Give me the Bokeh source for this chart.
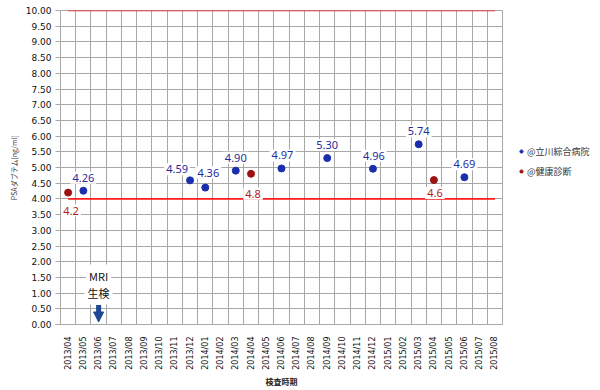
from bokeh.plotting import figure
from bokeh.models import (ColumnDataSource, FixedTicker, Range1d, Legend, LegendItem,
                          Arrow, NormalHead)
from bokeh.core.properties import value
from bokeh.embed import file_html
from bokeh.resources import INLINE
from math import pi

# ---------------- data ----------------
months = ["2013/04", "2013/05", "2013/06", "2013/07", "2013/08", "2013/09", "2013/10",
          "2013/11", "2013/12", "2014/01", "2014/02", "2014/03", "2014/04", "2014/05",
          "2014/06", "2014/07", "2014/08", "2014/09", "2014/10", "2014/11", "2014/12",
          "2015/01", "2015/02", "2015/03", "2015/04", "2015/05", "2015/06", "2015/07",
          "2015/08"]

hospital_name = "@立川綜合病院"
hospital_months = ["2013/05", "2013/12", "2014/01", "2014/03", "2014/06",
                   "2014/09", "2014/12", "2015/03", "2015/06"]
hospital_psa = [4.26, 4.59, 4.36, 4.90, 4.97, 5.30, 4.96, 5.74, 4.69]

checkup_name = "@健康診断"
checkup_months = ["2013/04", "2014/04", "2015/04"]
checkup_psa = [4.2, 4.8, 4.6]

limit_months = ["2013/04", "2015/08"]
lower_limit = [4.0, 4.0]
upper_limit = [10.0, 10.0]

y_ticks = [0.0, 0.5, 1.0, 1.5, 2.0, 2.5, 3.0, 3.5, 4.0, 4.5, 5.0, 5.5, 6.0, 6.5,
           7.0, 7.5, 8.0, 8.5, 9.0, 9.5, 10.0]

event_month = "2013/06"
event_texts = ["MRI", "生検"]
event_levels = [1.56, 0.99]
arrow_top, arrow_tip = 0.62, 0.08

# label nudges (styling, screen px)
hosp_dx = [0, -13, 3, 0, 1, 0, 1, 0, 0]
hosp_dy = [-13, -11, -15, -13, -13, -13, -13, -13, -13]
chk_dx = [3, 2, 1]
chk_dy = [18, 20, 13]

idx = {m: i for i, m in enumerate(months)}

BLUE = "#1b2fae"
BLUE_TXT = "#1f2c9c"
RED = "#9c1212"
RED_TXT = "#b21b1b"
GRID = "#a8a8a8"

p = figure(frame_width=442, frame_height=314, x_range=Range1d(-0.5, len(months) - 0.5),
           y_range=Range1d(0, 10), output_backend="svg", toolbar_location=None,
           min_border_left=60, min_border_top=10, min_border_bottom=66,
           min_border_right=98)
p.background_fill_color = "white"
p.border_fill_color = "white"
p.outline_line_color = GRID

# grids
p.xgrid.ticker = FixedTicker(ticks=[i - 0.5 for i in range(len(months) + 1)])
p.ygrid.ticker = FixedTicker(ticks=y_ticks)
p.xgrid.grid_line_color = GRID
p.ygrid.grid_line_color = GRID

# axes
p.yaxis.ticker = FixedTicker(ticks=y_ticks)
p.yaxis.major_label_overrides = {t: f"{t:.2f}" for t in y_ticks}
p.yaxis.major_label_text_font = "DejaVu Sans"
p.yaxis.major_label_text_font_size = "9px"
p.yaxis.major_label_text_color = "#111"
p.yaxis.major_tick_out = 5
p.yaxis.major_tick_in = 0
p.yaxis.minor_tick_line_color = None
p.yaxis.major_tick_line_color = GRID
p.yaxis.axis_line_color = GRID
p.yaxis.major_label_standoff = 4
p.yaxis.axis_label = "PSAダブテム[ng/ml]"
p.yaxis.axis_label_text_font = "Noto Sans CJK JP"
p.yaxis.axis_label_text_font_size = "7px"
p.yaxis.axis_label_text_font_style = "normal"
p.yaxis.axis_label_text_color = "#333"
p.yaxis.axis_label_standoff = 4

p.xaxis.ticker = FixedTicker(ticks=list(range(len(months))))
p.xaxis.major_label_overrides = {i: m for i, m in enumerate(months)}
p.xaxis.major_label_orientation = pi / 2
p.xaxis.major_label_text_font = "DejaVu Sans"
p.xaxis.major_label_text_font_size = "8px"
p.xaxis.major_label_text_color = "#111"
p.xaxis.major_tick_line_color = None
p.xaxis.minor_tick_line_color = None
p.xaxis.axis_line_color = GRID
p.xaxis.major_label_standoff = 6
p.xaxis.axis_label = "検査時期"
p.xaxis.axis_label_text_font = "Noto Sans CJK JP"
p.xaxis.axis_label_text_font_size = "8px"
p.xaxis.axis_label_text_font_style = "bold"
p.xaxis.axis_label_text_color = "#222"
p.xaxis.axis_label_standoff = 3

# limit lines
lx = [idx[m] for m in limit_months]
p.line(lx, upper_limit, line_color="#ff1a1a", line_width=1.6)
p.line(lx, lower_limit, line_color="#ff1a1a", line_width=1.6)

# points
hs = ColumnDataSource(dict(x=[idx[m] for m in hospital_months], y=hospital_psa,
                           label=[f"{v:.2f}" for v in hospital_psa], dx=hosp_dx, dy=hosp_dy))
cs = ColumnDataSource(dict(x=[idx[m] for m in checkup_months], y=checkup_psa,
                           label=[f"{v:.1f}" for v in checkup_psa], dx=chk_dx, dy=chk_dy))

r_h = p.scatter("x", "y", source=hs, size=7, fill_color=BLUE, line_color=BLUE)
r_c = p.scatter("x", "y", source=cs, size=7, fill_color=RED, line_color=RED)

p.text("x", "y", text="label", source=hs, text_font=value("Noto Sans"),
       text_font_size="11px", text_color=BLUE_TXT, text_align="center",
       text_baseline="middle", x_offset="dx", y_offset="dy",
       background_fill_color="white", padding=2)
p.text("x", "y", text="label", source=cs, text_font=value("Noto Sans"),
       text_font_size="11px", text_color=RED_TXT, text_align="center",
       text_baseline="middle", x_offset="dx", y_offset="dy",
       background_fill_color="white", padding=2)

# event annotation
es = ColumnDataSource(dict(x=[idx[event_month]] * len(event_texts), y=event_levels,
                           t=event_texts))
p.text("x", "y", text="t", source=es, text_font=value("Noto Sans CJK JP"),
       text_font_size="11px", text_color="#111", text_align="center",
       text_baseline="middle", background_fill_color="white", padding=3)
p.add_layout(Arrow(end=NormalHead(size=10, fill_color="#1f4690", line_color="#1f4690"),
                   x_start=idx[event_month], y_start=arrow_top,
                   x_end=idx[event_month], y_end=arrow_tip,
                   line_color="#1f4690", line_width=5))

legend = Legend(items=[LegendItem(label=hospital_name, renderers=[r_h]),
                       LegendItem(label=checkup_name, renderers=[r_c])],
                location=(15, 143), margin=0, padding=0, spacing=0,
                glyph_width=8, glyph_height=8, label_standoff=2, label_height=20,
                label_text_font="Noto Sans CJK JP", label_text_font_size="9px",
                label_text_color="#333", border_line_color=None,
                background_fill_alpha=0)
p.add_layout(legend, "right")

open("out.html", "w").write(file_html(p, INLINE))
